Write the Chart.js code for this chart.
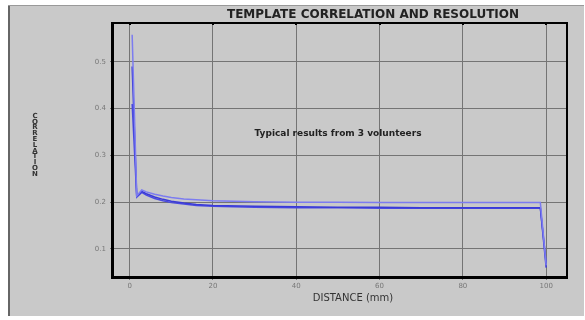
<!DOCTYPE html>
<html>
<head>
<meta charset="utf-8">
<script src="https://cdn.jsdelivr.net/npm/chart.js@4"></script>
<style>
  html, body { margin: 0; padding: 0; background: #fff; }
  #wrap { width: 585px; height: 320px; }
</style>
</head>
<body>
<div id="wrap"><canvas id="corrChart" width="585" height="320"></canvas></div>
<script>
// distances (mm) and correlation values for the 3 volunteers
const distances  = [0.6, 1.7, 2.9, 4, 6, 8, 10, 13, 16, 20, 30, 40, 50, 60, 70, 80, 90, 98.6, 100];
const volunteer1 = [0.558, 0.213, 0.226, 0.222, 0.217, 0.213, 0.210, 0.207, 0.205, 0.203, 0.201, 0.200, 0.200, 0.199, 0.199, 0.199, 0.199, 0.199, 0.065];
const volunteer2 = [0.49, 0.212, 0.223, 0.218, 0.211, 0.206, 0.202, 0.198, 0.195, 0.193, 0.191, 0.190, 0.189, 0.189, 0.188, 0.188, 0.188, 0.188, 0.06];
const volunteer3 = [0.41, 0.211, 0.221, 0.215, 0.208, 0.203, 0.199, 0.196, 0.193, 0.191, 0.189, 0.188, 0.188, 0.187, 0.187, 0.187, 0.187, 0.187, 0.07];
const xTicks = [0, 20, 40, 60, 80, 100];
const yTicks = [0.1, 0.2, 0.3, 0.4, 0.5];

const chartTitle = "TEMPLATE CORRELATION AND RESOLUTION";
const yTitle = "CORRELATION";
const xTitle = "DISTANCE (mm)";
const note = "Typical results from 3 volunteers";

function toPoints(ys) {
    return distances.map((d, i) => ({ x: d, y: ys[i] }));
}

// panel background, frame and the texts
const decor = {
    id: 'decor',
    beforeDraw(chart) {
        const c = chart.ctx;
        c.save();
        c.fillStyle = '#ffffff';
        c.fillRect(0, 0, chart.width, chart.height);
        c.fillStyle = '#c9c9c9';
        c.fillRect(8, 5, 576, 311);
        c.fillStyle = '#666';
        c.fillRect(8, 5, 2, 311);
        c.fillStyle = '#999';
        c.fillRect(8, 5, 576, 1);
        c.restore();
    },
    afterDraw(chart) {
        const c = chart.ctx;
        const a = chart.chartArea;
        const xs = chart.scales.x;
        c.save();
        // frame round the plot
        c.fillStyle = '#000';
        c.fillRect(a.left - 2, a.top - 1, 3, a.bottom - a.top + 2);
        c.fillRect(a.left - 2, a.bottom - 1, a.right - a.left + 3, 3);
        c.fillRect(a.left - 2, a.top - 1, a.right - a.left + 3, 2);
        c.fillRect(a.right - 1, a.top - 1, 2, a.bottom - a.top + 2);
        // little tick marks on the top edge
        xTicks.forEach(v => c.fillRect(Math.round(xs.getPixelForValue(v)) - 1, a.top - 1, 2, 3));

        c.fillStyle = '#222';
        c.textAlign = 'center';
        c.textBaseline = 'middle';
        c.font = 'bold 12px "DejaVu Sans"';
        c.fillText(chartTitle, 373, 15);

        c.font = 'bold 9px "DejaVu Sans"';
        c.fillText(note, 338, 134);

        c.fillStyle = '#333';
        c.font = '10px "DejaVu Sans"';
        c.fillText(xTitle, 353, 298);

        c.font = 'bold 7px "DejaVu Sans"';
        const letters = yTitle.split('');
        letters.forEach((ch, i) => c.fillText(ch, 35, 116 + i * 5.8));
        c.restore();
    }
};

new Chart(document.getElementById('corrChart'), {
    type: 'line',
    data: {
        datasets: [
            { label: 'Volunteer 1', data: toPoints(volunteer1), borderColor: '#7c7cf0', borderWidth: 1.5 },
            { label: 'Volunteer 2', data: toPoints(volunteer2), borderColor: '#3a3ad8', borderWidth: 1.5 },
            { label: 'Volunteer 3', data: toPoints(volunteer3), borderColor: '#4b4be0', borderWidth: 1.5 }
        ]
    },
    options: {
        responsive: false,
        animation: false,
        events: [],
        layout: { padding: { left: 0, right: 18, top: 23, bottom: 0 } },
        elements: { point: { radius: 0 }, line: { tension: 0 } },
        plugins: { legend: { display: false }, title: { display: false }, tooltip: { enabled: false } },
        scales: {
            x: {
                type: 'linear',
                min: -4,
                max: 105,
                afterBuildTicks: s => { s.ticks = xTicks.map(v => ({ value: v })); },
                afterFit: s => { s.height = 43; },
                grid: { color: '#747474', lineWidth: 1, tickLength: 3 },
                border: { display: false },
                ticks: { color: '#777', font: { family: 'DejaVu Sans', size: 7 }, padding: 2, maxRotation: 0 }
            },
            y: {
                min: 0.04,
                max: 0.583,
                afterBuildTicks: s => { s.ticks = yTicks.map(v => ({ value: v })); },
                afterFit: s => { s.width = 113; },
                grid: { color: '#747474', lineWidth: 1, tickLength: 3 },
                border: { display: false },
                ticks: { color: '#777', font: { family: 'DejaVu Sans', size: 7 }, padding: 4 }
            }
        }
    },
    plugins: [decor]
});
</script>
</body>
</html>
